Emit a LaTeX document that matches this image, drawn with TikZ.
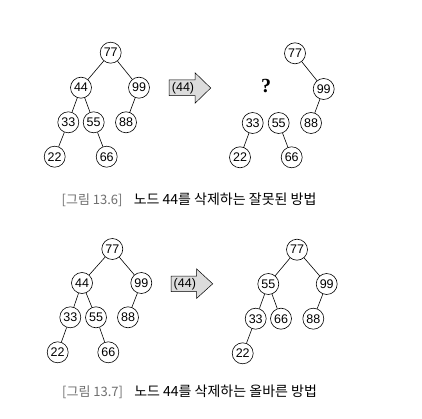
\documentclass[tikz,border=0pt]{standalone}
\usepackage{fontspec}
\setmainfont{Liberation Sans}
\newfontfamily\kr{Noto Sans CJK KR}
\newfontfamily\qfont{Liberation Serif}
\definecolor{capgray}{RGB}{110,110,110}
\definecolor{arrowgray}{RGB}{220,220,220}

\begin{document}
\begin{tikzpicture}[x = 1pt, y = -1pt,
    key/.style = {circle, draw, line width = 0.6pt, minimum size = 21pt, inner sep = 0pt, font = \fontsize{12.5}{12.5}\selectfont},
    caption/.style = {anchor = west, inner sep = 0pt, font = \kr\fontsize{14}{14}\selectfont}]
    \useasboundingbox (0,0) rectangle (422,419);

    % [13.6] before
    \node[key] (a77) at (110.7,52.7) {77};
    \node[key] (a44) at (81,87.7) {44};
    \node[key] (a99) at (139,87.7) {99};
    \node[key] (a33) at (68.3,122.3) {33};
    \node[key] (a55) at (93.7,122.3) {55};
    \node[key] (a88) at (126,122.3) {88};
    \node[key] (a22) at (54.7,156.7) {22};
    \node[key] (a66) at (106.7,156.7) {66};
    \draw[line width = 0.6pt]
    (a77) -- (a44) (a77) -- (a99) (a44) -- (a33) (a44) -- (a55)
    (a99) -- (a88) (a33) -- (a22) (a55) -- (a66);

    \draw[fill = arrowgray, line width = 0.5pt]
    (169,80) -- (195,80) -- (195,72.7) -- (210.7,88) -- (195,103.3) -- (195,95.7) -- (169,95.7) -- cycle;
    \node[font = \fontsize{12.5}{12.5}\selectfont] (del1) at (183,88) {(44)};

    % [13.6] after (wrong)
    \node[key] (b77) at (295,53.3) {77};
    \node[font = \qfont\bfseries\fontsize{20}{20}\selectfont] (hole) at (266,86) {?};
    \node[key] (b99) at (323.7,89) {99};
    \node[key] (b33) at (252.7,123) {33};
    \node[key] (b55) at (278.7,123) {55};
    \node[key] (b88) at (311,123) {88};
    \node[key] (b22) at (240,157.3) {22};
    \node[key] (b66) at (291.7,157.3) {66};
    \draw[line width = 0.6pt]
    (b77) -- (b99) (b99) -- (b88) (b33) -- (b22) (b55) -- (b66);

    \node[caption] (cap1) at (61.5,200) {\textcolor{capgray}{\fontsize{13}{14}\selectfont[그림 13.6]}\hspace{0.8em}노드 44를 삭제하는 잘못된 방법};

    % [13.7] before
    \node[key] (c77) at (112.3,249) {77};
    \node[key] (c44) at (82,283) {44};
    \node[key] (c99) at (141.3,283) {99};
    \node[key] (c33) at (70.3,317.3) {33};
    \node[key] (c55) at (96,317.3) {55};
    \node[key] (c88) at (128,317.3) {88};
    \node[key] (c22) at (57.7,352.3) {22};
    \node[key] (c66) at (108.3,352.3) {66};
    \draw[line width = 0.6pt]
    (c77) -- (c44) (c77) -- (c99) (c44) -- (c33) (c44) -- (c55)
    (c99) -- (c88) (c33) -- (c22) (c55) -- (c66);

    \draw[fill = arrowgray, line width = 0.5pt]
    (171,276) -- (196.7,276) -- (196.7,269) -- (212.7,283.8) -- (196.7,298.3) -- (196.7,291.7) -- (171,291.7) -- cycle;
    \node[font = \fontsize{12.5}{12.5}\selectfont] (del2) at (184.8,283.8) {(44)};

    % [13.7] after (right)
    \node[key] (d77) at (297,249.7) {77};
    \node[key] (d55) at (268.3,284) {55};
    \node[key] (d99) at (326.7,284) {99};
    \node[key] (d33) at (255.7,318.7) {33};
    \node[key] (d66) at (281,318.7) {66};
    \node[key] (d88) at (313.3,318.7) {88};
    \node[key] (d22) at (242.7,353.3) {22};
    \draw[line width = 0.6pt]
    (d77) -- (d55) (d77) -- (d99) (d55) -- (d33) (d55) -- (d66)
    (d99) -- (d88) (d33) -- (d22);

    \node[caption] (cap2) at (62,391.7) {\textcolor{capgray}{\fontsize{13}{14}\selectfont[그림 13.7]}\hspace{0.8em}노드 44를 삭제하는 올바른 방법};
\end{tikzpicture}
\end{document}
